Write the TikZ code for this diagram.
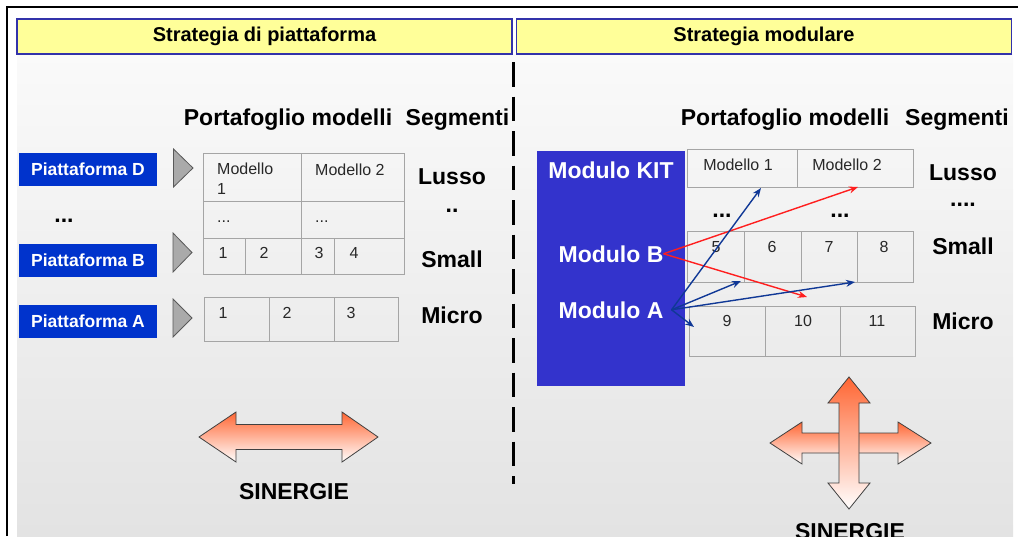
\documentclass[tikz,border=0pt]{standalone}
\usepackage{fontspec}
\setmainfont{Liberation Sans}
\usetikzlibrary{arrows.meta}
\definecolor{hdryellow}{RGB}{255,255,153}
\definecolor{hdrline}{RGB}{50,50,170}
\definecolor{pblue}{RGB}{0,51,204}
\definecolor{kitblue}{RGB}{51,51,204}
\definecolor{cellline}{RGB}{165,165,165}
\definecolor{celltext}{RGB}{40,40,40}
\definecolor{trigray}{RGB}{170,170,170}
\definecolor{sorange}{RGB}{255,102,51}
\definecolor{arrblue}{RGB}{16,56,150}
\definecolor{arrred}{RGB}{255,30,30}

\begin{document}
\begin{tikzpicture}[x=1pt,y=-1pt,
  hdr/.style={draw=hdrline,fill=hdryellow,line width=1.2pt,minimum width=495pt,minimum height=35pt,inner sep=0pt,font=\fontsize{20}{24}\selectfont\bfseries},
  pbox/.style={fill=pblue,text=white,minimum width=138pt,minimum height=33pt,inner sep=0pt,font=\fontsize{17.5}{20}\selectfont\bfseries},
  big/.style={inner sep=0pt,font=\fontsize{23}{27}\selectfont\bfseries},
  cell/.style={inner sep=0pt,text=celltext,font=\fontsize{16}{20}\selectfont},
  grid/.style={draw=cellline,line width=0.9pt},
  tri/.style={fill=trigray,draw=black!65,line width=0.8pt},
  sin/.style={top color=sorange,bottom color=white,draw=black!75,line width=0.8pt},
  bluearr/.style={arrblue,line width=1.4pt,-{Stealth[length=9pt,width=7pt]}},
  redarr/.style={arrred,line width=1.4pt,-{Stealth[length=9pt,width=7pt]}}]
\useasboundingbox (0,0) rectangle (1018,536);
\shade[top color=black!2,bottom color=black!11] (17,54) rectangle (1013,536);
\draw[line width=1.5pt] (7,536) -- (7,7) -- (1018,7);
\node[hdr] (hL) at (264.5,36.5) {Strategia di piattaforma};
\node[hdr] (hR) at (764,36.5) {Strategia modulare};
\draw[line width=3pt,dash pattern=on 24.5pt off 10pt] (513,62) -- (513,484);

\node[big,anchor=base] (portL) at (288,125) {Portafoglio modelli};
\node[big,anchor=base] (segL) at (457.5,125) {Segmenti};
\node[pbox] (pD) at (88,169.5) {Piattaforma D};
\node[big,anchor=base] (dotsP) at (64,222) {...};
\node[pbox] (pB) at (88,260.5) {Piattaforma B};
\node[pbox] (pA) at (88,321) {Piattaforma A};
\filldraw[tri] (173.5,149) -- (193,168) -- (173.5,187) -- cycle;
\filldraw[tri] (173,233) -- (192,252.5) -- (173,272) -- cycle;
\filldraw[tri] (173,299) -- (192,318) -- (173,337) -- cycle;

\draw[grid] (203,153) rectangle (404,274);
\draw[grid] (203,201) -- (404,201);
\draw[grid] (203,238) -- (404,238);
\draw[grid] (301,153) -- (301,274);
\draw[grid] (245,238) -- (245,274);
\draw[grid] (334,238) -- (334,274);
\node[cell,anchor=north west,align=left] (lm1) at (217,163) {Modello\\1};
\node[cell,anchor=base west] (lm2) at (315,175) {Modello 2};
\node[cell,anchor=base west] (ld1) at (217,222) {...};
\node[cell,anchor=base west] (ld2) at (315,222) {...};
\node[cell,anchor=base] (l1) at (223,258) {1};
\node[cell,anchor=base] (l2) at (264,258) {2};
\node[cell,anchor=base] (l3) at (319,258) {3};
\node[cell,anchor=base] (l4) at (354,258) {4};
\draw[grid] (204,297) rectangle (398,341);
\draw[grid] (269,297) -- (269,341);
\draw[grid] (334,297) -- (334,341);
\node[cell,anchor=base] (la1) at (223,318) {1};
\node[cell,anchor=base] (la2) at (287,318) {2};
\node[cell,anchor=base] (la3) at (351,318) {3};
\node[big,anchor=base] (lusL) at (452,184) {Lusso};
\node[big,anchor=base] (ddL) at (452,212) {..};
\node[big,anchor=base] (smL) at (452,267) {Small};
\node[big,anchor=base] (miL) at (452,323) {Micro};

\shadedraw[sin] (199,437) -- (236,412) -- (236,424.5) -- (342,424.5) -- (342,412) -- (378,437)
  -- (342,462) -- (342,449.5) -- (236,449.5) -- (236,462) -- cycle;
\node[big,anchor=base] (sinL) at (294,499) {SINERGIE};

\node[big,anchor=base] (portR) at (785,125) {Portafoglio modelli};
\node[big,anchor=base] (segR) at (957,125) {Segmenti};
\fill[kitblue] (537,151) rectangle (685,386);
\node[big,anchor=base,text=white] (kit) at (611,178) {Modulo KIT};
\node[big,anchor=base,text=white] (mB) at (611,262) {Modulo B};
\node[big,anchor=base,text=white] (mA) at (611,318) {Modulo A};

\draw[grid] (687,149) rectangle (913,187);
\draw[grid] (797,149) -- (797,187);
\node[cell,anchor=base] (rm1) at (738,170) {Modello 1};
\node[cell,anchor=base] (rm2) at (847,170) {Modello 2};
\node[big,anchor=base] (rd1) at (722,217) {...};
\node[big,anchor=base] (rd2) at (840,217) {...};
\draw[grid] (687,231) rectangle (913,282);
\draw[grid] (744,231) -- (744,282);
\draw[grid] (801,231) -- (801,282);
\draw[grid] (857,231) -- (857,282);
\node[cell,anchor=base] (r5) at (716,252) {5};
\node[cell,anchor=base] (r6) at (772,252) {6};
\node[cell,anchor=base] (r7) at (829,252) {7};
\node[cell,anchor=base] (r8) at (884,252) {8};
\draw[grid] (689,306) rectangle (915,356);
\draw[grid] (765,306) -- (765,356);
\draw[grid] (840,306) -- (840,356);
\node[cell,anchor=base] (r9) at (727,326) {9};
\node[cell,anchor=base] (r10) at (803,326) {10};
\node[cell,anchor=base] (r11) at (877,326) {11};
\node[big,anchor=base] (lusR) at (963,180) {Lusso};
\node[big,anchor=base] (ddR) at (963,206) {....};
\node[big,anchor=base] (smR) at (963,254) {Small};
\node[big,anchor=base] (miR) at (963,329) {Micro};

\coordinate (mBo) at (mB.east);
\coordinate (mAo) at ([xshift=8pt]mA.east);
\coordinate (toM2) at (858,187);
\coordinate (toMi) at (807,297);
\coordinate (toM1) at (761,188);
\coordinate (toS1) at (741,281);
\coordinate (toS2) at (855,282);
\coordinate (toMa) at (694,327);
\draw[redarr] (mBo) -- (toM2);
\draw[redarr] (mBo) -- (toMi);
\draw[bluearr] (mAo) -- (toM1);
\draw[bluearr] (mAo) -- (toS1);
\draw[bluearr] (mAo) -- (toS2);
\draw[bluearr] (mAo) -- (toMa);

\shadedraw[sin] (770,443) -- (802,422) -- (802,433) -- (898,433) -- (898,422) -- (931,443)
  -- (898,464) -- (898,453) -- (802,453) -- (802,464) -- cycle;
\shadedraw[sin] (849,377) -- (870,403) -- (859,403) -- (859,483) -- (870,483) -- (849,509)
  -- (828,483) -- (839,483) -- (839,403) -- (828,403) -- cycle;
\node[big,anchor=base] (sinR) at (850,539) {SINERGIE};
\end{tikzpicture}
\end{document}
